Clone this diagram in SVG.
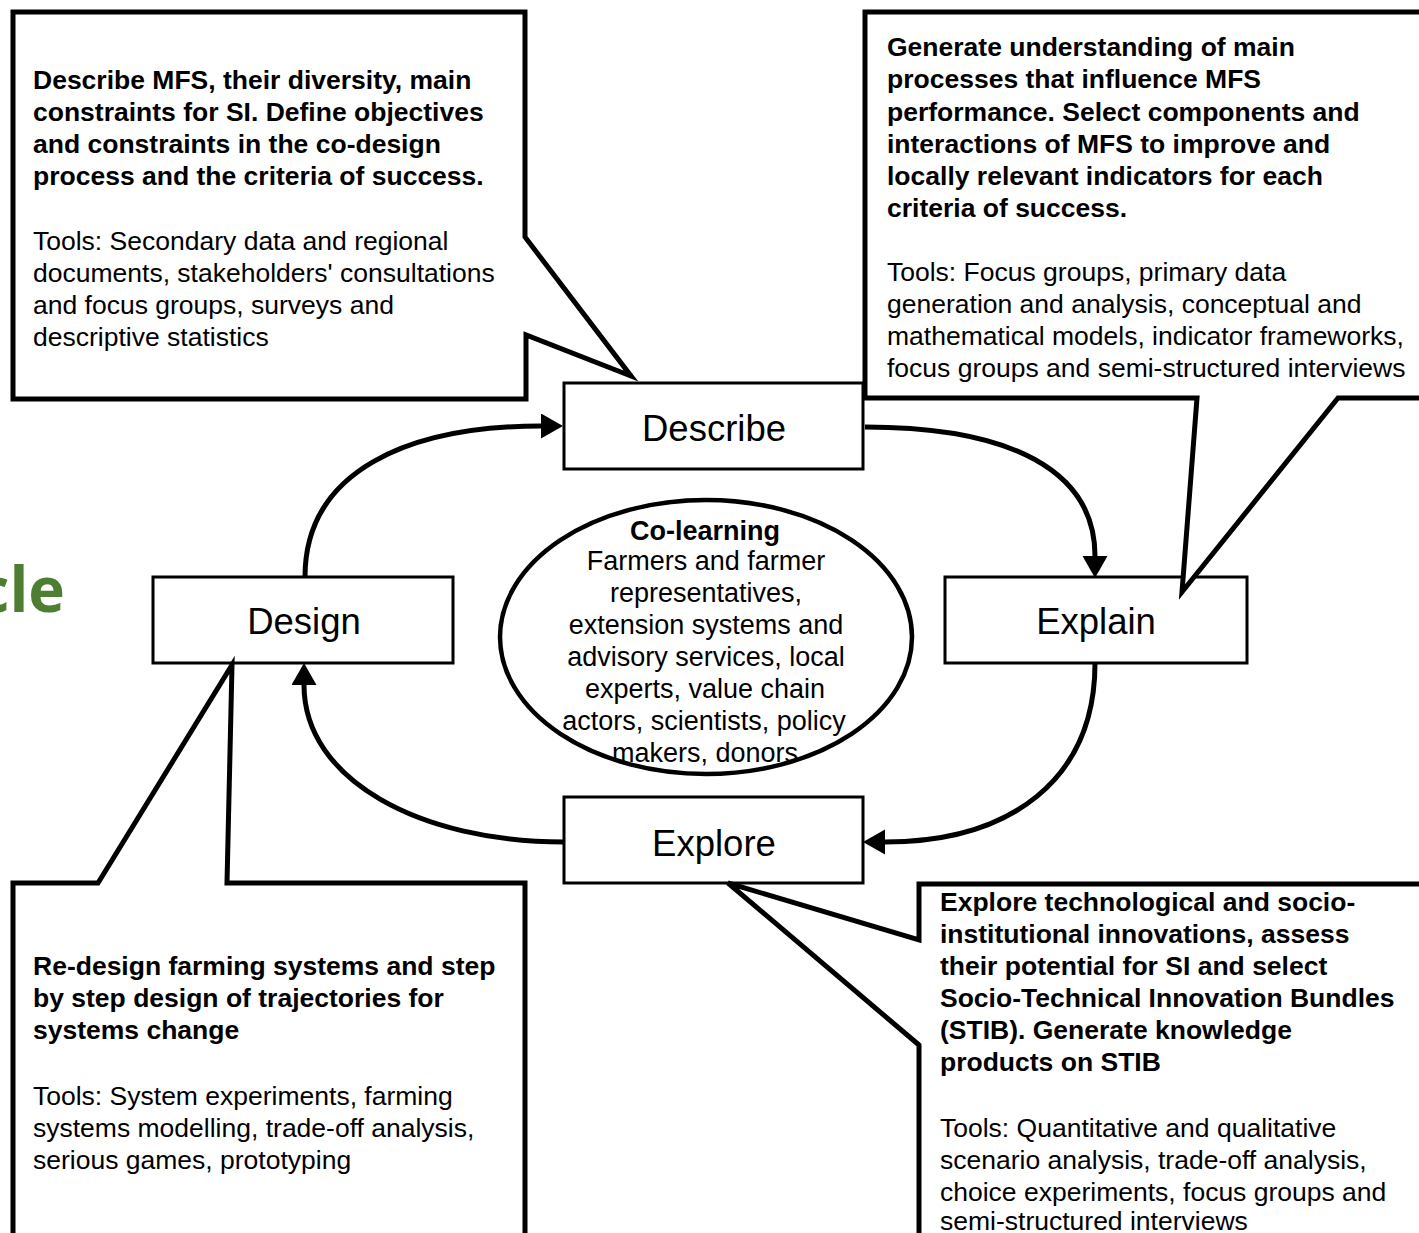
<svg xmlns="http://www.w3.org/2000/svg" width="1419" height="1233" viewBox="0 0 1419 1233">
<defs>
<style>
.co{fill:#fff;stroke:#000;stroke-width:5;stroke-linejoin:miter}
.bx{fill:#fff;stroke:#000;stroke-width:3}
.t{font-family:"Liberation Sans",Arial,sans-serif;font-size:26.5px;fill:#000}
.b{font-weight:bold}
.lbl{font-family:"Liberation Sans",Arial,sans-serif;font-size:36.5px;text-anchor:middle;fill:#000}
.el{font-family:"Liberation Sans",Arial,sans-serif;font-size:27px;text-anchor:middle;fill:#000}
.arc{fill:none;stroke:#000;stroke-width:5}
</style>
<marker id="ah" markerUnits="userSpaceOnUse" markerWidth="24" markerHeight="26" refX="0" refY="12.5" orient="auto">
<path d="M0,0 L22,12.5 L0,25 z" fill="#000"/>
</marker>
</defs>
<rect width="1419" height="1233" fill="#fff"/>
<text x="65" y="612" text-anchor="end" font-family="'Open Sans',sans-serif" font-weight="bold" font-size="62" fill="#4d7e31">cle</text>

<g id="node-describe"><rect class="bx" x="564" y="383" width="299" height="86"/><text class="lbl" x="714" y="441">Describe</text></g>
<g id="node-explain"><rect class="bx" x="945" y="577" width="302" height="86"/><text class="lbl" x="1096" y="634">Explain</text></g>
<g id="node-explore"><rect class="bx" x="564" y="797" width="299" height="86"/><text class="lbl" x="714" y="856">Explore</text></g>
<g id="node-design"><rect class="bx" x="153" y="577" width="300" height="86"/><text class="lbl" x="304" y="634">Design</text></g>

<g id="node-colearning">
<ellipse cx="706" cy="637" rx="206" ry="137" fill="#fff"/>
<text class="el" x="705" y="540" font-weight="bold" font-size="31">Co-learning</text>
<text class="el" x="706" y="570">Farmers and farmer</text>
<text class="el" x="706" y="602">representatives,</text>
<text class="el" x="706" y="634">extension systems and</text>
<text class="el" x="706" y="666">advisory services, local</text>
<text class="el" x="705" y="698">experts, value chain</text>
<text class="el" x="704" y="730">actors, scientists, policy</text>
<text class="el" x="705" y="762">makers, donors</text>
<ellipse cx="706" cy="637" rx="206" ry="137" fill="none" stroke="#000" stroke-width="4.5"/>
</g>

<g id="callout-describe">
<polygon class="co" points="13,12 525,12 525,237 631,376 526,335 526,399 13,399"/>
<text class="t b" x="33" y="89">Describe MFS, their diversity, main</text>
<text class="t b" x="33" y="121">constraints for SI. Define objectives</text>
<text class="t b" x="33" y="153">and constraints in the co-design</text>
<text class="t b" x="33" y="185">process and the criteria of success.</text>
<text class="t" x="33" y="250">Tools: Secondary data and regional</text>
<text class="t" x="33" y="282">documents, stakeholders' consultations</text>
<text class="t" x="33" y="314">and focus groups, surveys and</text>
<text class="t" x="33" y="346">descriptive statistics</text>
</g>

<g id="callout-explain">
<polygon class="co" points="865,12 1425,12 1425,398 1338,398 1182,592 1197,398 865,398"/>
<text class="t b" x="887" y="56">Generate understanding of main</text>
<text class="t b" x="887" y="88">processes that influence MFS</text>
<text class="t b" x="887" y="121">performance. Select components and</text>
<text class="t b" x="887" y="153">interactions of MFS to improve and</text>
<text class="t b" x="887" y="185">locally relevant indicators for each</text>
<text class="t b" x="887" y="217">criteria of success.</text>
<text class="t" x="887" y="281">Tools: Focus groups, primary data</text>
<text class="t" x="887" y="313">generation and analysis, conceptual and</text>
<text class="t" x="887" y="345">mathematical models, indicator frameworks,</text>
<text class="t" x="887" y="377">focus groups and semi-structured interviews</text>
</g>

<g id="callout-design">
<polygon class="co" points="13,883 98,883 232,665 227,883 525,883 525,1245 13,1245"/>
<text class="t b" x="33" y="975">Re-design farming systems and step</text>
<text class="t b" x="33" y="1007">by step design of trajectories for</text>
<text class="t b" x="33" y="1039">systems change</text>
<text class="t" x="33" y="1105">Tools: System experiments, farming</text>
<text class="t" x="33" y="1137">systems modelling, trade-off analysis,</text>
<text class="t" x="33" y="1169">serious games, prototyping</text>
</g>

<g id="callout-explore">
<polygon class="co" points="728,883 919,940 919,884 1425,884 1425,1245 919,1245 919,1045"/>
<text class="t b" x="940" y="911">Explore technological and socio-</text>
<text class="t b" x="940" y="943">institutional innovations, assess</text>
<text class="t b" x="940" y="975">their potential for SI and select</text>
<text class="t b" x="940" y="1007">Socio-Technical Innovation Bundles</text>
<text class="t b" x="940" y="1039">(STIB). Generate knowledge</text>
<text class="t b" x="940" y="1071">products on STIB</text>
<text class="t" x="940" y="1137">Tools: Quantitative and qualitative</text>
<text class="t" x="940" y="1169">scenario analysis, trade-off analysis,</text>
<text class="t" x="940" y="1201">choice experiments, focus groups and</text>
<text class="t" x="940" y="1230">semi-structured interviews</text>
</g>

<g id="connectors">
<path class="arc" d="M305,577 C305,470 410,426 541,426" marker-end="url(#ah)"/>
<path class="arc" d="M865,427 C1010,427 1095,470 1095,556" marker-end="url(#ah)"/>
<path class="arc" d="M1095,663 C1095,780 1010,842 885,842" marker-end="url(#ah)"/>
<path class="arc" d="M564,842 C420,842 304,780 304,685" marker-end="url(#ah)"/>
</g>
</svg>
